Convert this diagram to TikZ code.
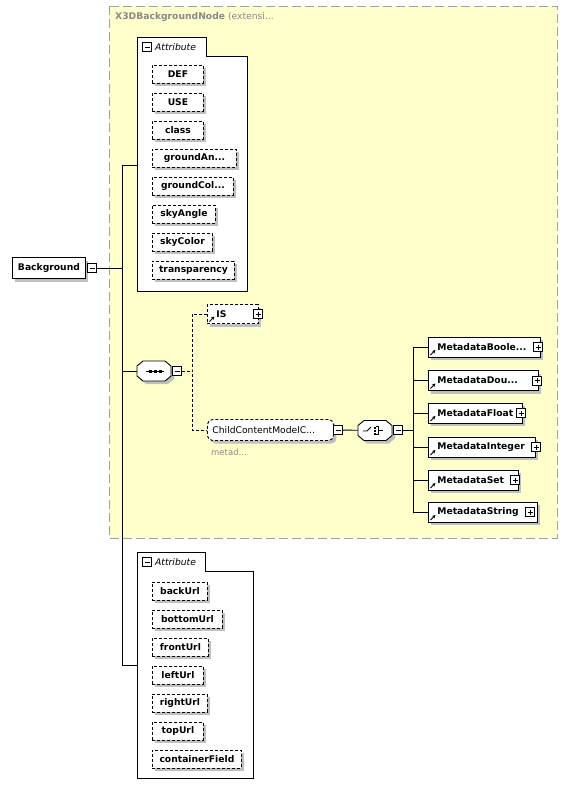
\documentclass[tikz,border=0pt]{standalone}
\usepackage{fontspec}
\setmainfont{DejaVu Sans}
\usetikzlibrary{shadows,arrows.meta}

\definecolor{groupfill}{RGB}{255,255,204}
\definecolor{groupline}{RGB}{160,160,160}
\definecolor{notegray}{RGB}{136,136,136}

\tikzset{
	txt/.style={font=\fontsize{9.2}{11}\selectfont},
	boldtxt/.style={font=\fontsize{9.2}{11}\selectfont\bfseries},
	shade3/.style={drop shadow={shadow xshift=3pt,shadow yshift=-3pt,fill=black!25,opacity=1}},
	link/.style={line width=0.9pt},
	dashlink/.style={line width=0.9pt,dash pattern=on 3pt off 2pt},
	elem/.style={draw,line width=0.9pt,fill=white,shade3,boldtxt,anchor=west,inner ysep=0pt},
	attr/.style={elem,dash pattern=on 3pt off 2pt,minimum width=#1,minimum height=18pt,inner xsep=0pt},
	refelem/.style={elem,minimum height=20pt,inner xsep=9pt,text width=#1,align=left,
		path picture={\draw[solid,line width=1pt,-{Stealth[length=3.4pt,width=3.4pt]}]
			([xshift=2pt,yshift=2pt]path picture bounding box.south west) -- ++(5pt,5pt);}},
	grpnode/.style={minimum width=34pt,minimum height=20pt,inner sep=0pt},
	octpath/.style={insert path={-- ++(6,-5) -- ++(22,0) -- ++(6,5) -- ++(0,10) -- ++(-6,5) -- ++(-22,0) -- ++(-6,-5) -- cycle}},
	octline/.style={draw,line width=0.9pt,fill=white},
	pmbox/.style={draw,solid,line width=0.8pt,fill=white,minimum size=9pt,inner sep=0pt},
	minusbox/.style={pmbox,path picture={\draw[line width=0.8pt]
		([xshift=2pt]path picture bounding box.west) -- ([xshift=-2pt]path picture bounding box.east);}},
	plusbox/.style={pmbox,path picture={\draw[line width=0.8pt]
		([xshift=2pt]path picture bounding box.west) -- ([xshift=-2pt]path picture bounding box.east)
		([yshift=-2pt]path picture bounding box.north) -- ([yshift=2pt]path picture bounding box.south);}},
	attrgroup/.style={draw,line width=0.9pt,fill=white},
	grouplabel/.style={font=\fontsize{9.2}{11}\selectfont\itshape,anchor=west,inner sep=1pt},
	notetxt/.style={anchor=west,text=notegray,font=\fontsize{8.5}{10}\selectfont,inner sep=0pt},
}

\begin{document}
\begin{tikzpicture}[x=1pt,y=-1pt]
	\useasboundingbox (0,0) rectangle (568,796);
	%extension group
		\draw[fill=groupfill,draw=groupline,line width=0.9pt,dash pattern=on 9pt off 4pt] (109,6) rectangle (557,538);
		\node[notetxt,font=\fontsize{9.2}{11}\selectfont] (grptitle) at (115,17) {\textbf{X3DBackgroundNode} (extensi...};
	%root element
		\node[elem,minimum width=73pt,minimum height=21pt] (bg) at (12,268) {Background};
		\node[minusbox] (bgm) at (92,268) {};
	%attribute group 1
		\draw[attrgroup] (137,291) -- (137,37) -- (206,37) -- (206,56) -- (247,56) -- (247,291) -- cycle;
		\node[minusbox] (attAm) at (147,47) {};
		\node[grouplabel] (attAl) at (154,47) {Attribute};
		\node[attr=51pt] (def) at (152,74) {DEF};
		\node[attr=51pt] (use) at (152,102) {USE};
		\node[attr=51pt] (class) at (152,130) {class};
		\node[attr=84pt] (gang) at (152,158) {groundAn...};
		\node[attr=81pt] (gcol) at (152,186) {groundCol...};
		\node[attr=63pt] (sang) at (152,214) {skyAngle};
		\node[attr=60pt] (scol) at (152,242) {skyColor};
		\node[attr=82pt] (transp) at (152,270) {transparency};
	%sequence
		\node[grpnode] (seq) at (154,371) {};
		\fill[black!25] ([shift={(-14,-2)}]seq.center) [octpath];
		\path[octline] ([shift={(-17,-5)}]seq.center) [octpath];
		\draw[link] ([xshift=-8pt]seq.center) -- ([xshift=10pt]seq.center);
		\fill ([shift={(-5.5,-1.5)}]seq.center) rectangle ++(3,3);
		\fill ([shift={(-0.5,-1.5)}]seq.center) rectangle ++(3,3);
		\fill ([shift={(4.5,-1.5)}]seq.center) rectangle ++(3,3);
		\node[minusbox] (seqm) at (177,371) {};
	%IS
		\node[refelem=33pt,dash pattern=on 3pt off 2pt,minimum height=19pt] (is) at (207,314) {IS};
		\node[plusbox] (isp) at (258,314) {};
	%child content model
		\node[elem,rounded corners=5pt,dash pattern=on 3pt off 2pt,txt,minimum height=21pt,
			inner xsep=5pt,text width=116pt,align=left] (cc) at (207,430) {ChildContentModelC...};
		\node[minusbox] (ccm) at (338,430) {};
		\node[notetxt] (ccnote) at (211,452) {metad...};
	%choice
		\node[grpnode] (cho) at (375,430.5) {};
		\fill[black!25] ([shift={(-14,-2)}]cho.center) [octpath];
		\path[octline] ([shift={(-17,-5)}]cho.center) [octpath];
		\draw[link] ([shift={(-12,0.5)}]cho.center) -- ([shift={(-8,0.5)}]cho.center) -- ([shift={(-4,-3.5)}]cho.center);
		\fill ([shift={(-1.5,-4)}]cho.center) rectangle ++(2,2);
		\fill ([shift={(-1.5,-1)}]cho.center) rectangle ++(2,2);
		\fill ([shift={(-1.5,2)}]cho.center) rectangle ++(2,2);
		\draw[link] ([shift={(1,-4)}]cho.center) -- ([shift={(3,-4)}]cho.center) -- ([shift={(3,4)}]cho.center) -- ([shift={(1,4)}]cho.center);
		\draw[link] ([shift={(3,0)}]cho.center) -- ([shift={(8,0)}]cho.center);
		\node[minusbox] (chom) at (398,430) {};
	%metadata elements
		\node[refelem=94pt] (mbool) at (428,347) {MetadataBoole...};
		\node[plusbox] (mboolp) at (538,347) {};
		\node[refelem=92pt] (mdbl) at (428,380.5) {MetadataDou...};
		\node[plusbox] (mdblp) at (537,380.5) {};
		\node[refelem=76pt] (mflt) at (428,413) {MetadataFloat};
		\node[plusbox] (mfltp) at (521,413) {};
		\node[refelem=89pt] (mint) at (428,447) {MetadataInteger};
		\node[plusbox] (mintp) at (536,447) {};
		\node[refelem=72pt] (mset) at (428,480) {MetadataSet};
		\node[plusbox] (msetp) at (515,480) {};
		\node[refelem=91pt] (mstr) at (428,512) {MetadataString};
		\node[plusbox] (mstrp) at (530,512) {};
	%attribute group 2
		\draw[attrgroup] (137,778) -- (137,552) -- (205,552) -- (205,571) -- (253,571) -- (253,778) -- cycle;
		\node[minusbox] (attBm) at (147,562) {};
		\node[grouplabel] (attBl) at (154,562) {Attribute};
		\node[attr=55pt] (back) at (152,591) {backUrl};
		\node[attr=70pt] (bottom) at (152,619) {bottomUrl};
		\node[attr=56pt] (front) at (152,647) {frontUrl};
		\node[attr=51pt] (left) at (152,675) {leftUrl};
		\node[attr=55pt] (right) at (152,703) {rightUrl};
		\node[attr=51pt] (top) at (152,731) {topUrl};
		\node[attr=89pt] (cfield) at (152,759) {containerField};
	%connectors
		\coordinate (trunkA) at (122,165);
		\coordinate (trunkB) at (122,665);
		\coordinate (attA) at (137,165);
		\coordinate (attB) at (137,665);
		\draw[link] (trunkA) -- (trunkB);
		\draw[link] (bgm) -- (bgm -| trunkA);
		\draw[link] (trunkA) -- (attA);
		\draw[link] (trunkB) -- (attB);
		\draw[link] (seq) -- (seq -| trunkA);
		\coordinate (busS) at (192,371);
		\draw[dashlink] (seqm) -- (busS);
		\draw[dashlink] (is) -| (busS) |- (cc);
		\draw[link] (ccm) -- (cho);
		\coordinate (busC) at (413,430);
		\draw[link] (chom) -- (busC);
		\draw[link] (busC) |- (mbool);
		\draw[link] (busC) |- (mdbl);
		\draw[link] (busC) |- (mflt);
		\draw[link] (busC) |- (mint);
		\draw[link] (busC) |- (mset);
		\draw[link] (busC) |- (mstr);
\end{tikzpicture}
\end{document}
